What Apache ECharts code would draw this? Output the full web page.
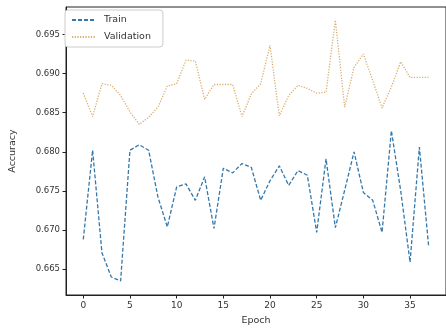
<!DOCTYPE html>
<html>
<head>
<meta charset="utf-8">
<script src="https://cdn.jsdelivr.net/npm/echarts@6/dist/echarts.min.js"></script>
<style>
html,body{margin:0;padding:0;background:#fff;}
#c{width:446px;height:333px;}
</style>
</head>
<body>
<div id="c"></div>
<script>
const epochs = [0,1,2,3,4,5,6,7,8,9,10,11,12,13,14,15,16,17,18,19,20,21,22,23,24,25,26,27,28,29,30,31,32,33,34,35,36,37];
const trainAcc = [0.6688,0.6802,0.6671,0.6640,0.6635,0.6802,0.6809,0.6802,0.6742,0.6704,0.6755,0.6759,0.6738,0.6768,0.6702,0.6779,0.6773,0.6785,0.6780,0.6738,0.6763,0.6782,0.6757,0.6776,0.6770,0.6697,0.6791,0.6703,0.6751,0.6800,0.6748,0.6738,0.6697,0.6827,0.6750,0.6659,0.6806,0.6678];
const valAcc = [0.6875,0.6845,0.6887,0.6885,0.6872,0.6851,0.6835,0.6844,0.6857,0.6884,0.6887,0.6917,0.6916,0.6867,0.6886,0.6886,0.6886,0.6845,0.6874,0.6887,0.6936,0.6846,0.6872,0.6885,0.6881,0.6875,0.6876,0.6968,0.6857,0.6908,0.6925,0.6891,0.6856,0.6883,0.6915,0.6895,0.6895,0.6895];
const xTicks = [0,5,10,15,20,25,30,35];
const yTicks = [0.665,0.670,0.675,0.680,0.685,0.690,0.695];
const seriesNames = ['Train','Validation'];

const chart = echarts.init(document.getElementById('c'));
const txt = '#333';
const font = 'DejaVu Sans';
chart.setOption({
  animation: false,
  backgroundColor: '#fff',
  grid: {left: 64, top: 7, right: -3, bottom: 38, show: true, borderColor: '#222', borderWidth: 1, containLabel: false},
  legend: {
    left: 65, top: 10, orient: 'vertical',
    padding: [5, 12, 5, 6], itemGap: 7, itemWidth: 24, itemHeight: 10,
    borderColor: '#ccc', borderWidth: 1, borderRadius: 3, backgroundColor: '#fff',
    itemStyle: {opacity: 0},
    textStyle: {fontFamily: font, fontSize: 9.5, color: txt, padding: [0, 0, 0, 3]},
    data: seriesNames
  },
  xAxis: {
    type: 'value', min: -1.85, max: 38.85,
    name: 'Epoch', nameLocation: 'middle', nameGap: 21,
    nameTextStyle: {fontFamily: font, fontSize: 9.5, color: txt},
    axisLine: {show: true, onZero: false, lineStyle: {color: '#222', width: 1}},
    axisTick: {show: true, length: 3.5, lineStyle: {color: '#222'}, customValues: xTicks},
    axisLabel: {fontFamily: font, fontSize: 9, color: txt, margin: 6, customValues: xTicks},
    splitLine: {show: false}
  },
  yAxis: {
    type: 'value', min: 0.6617, max: 0.6985,
    name: 'Accuracy', nameLocation: 'middle', nameGap: 48,
    nameTextStyle: {fontFamily: font, fontSize: 9.5, color: txt},
    axisLine: {show: true, onZero: false, lineStyle: {color: '#222', width: 1}},
    axisTick: {show: true, length: 3.5, lineStyle: {color: '#222'}, customValues: yTicks},
    axisLabel: {fontFamily: font, fontSize: 8.5, color: txt, margin: 6, customValues: yTicks,
      formatter: v => v.toFixed(3)},
    splitLine: {show: false}
  },
  series: [
    {
      name: seriesNames[0], type: 'line', symbol: 'none', smooth: false,
      data: epochs.map((e, i) => [e, trainAcc[i]]),
      lineStyle: {color: '#3478ab', width: 1.3, type: [4, 2]},
      itemStyle: {color: '#3478ab'}
    },
    {
      name: seriesNames[1], type: 'line', symbol: 'none', smooth: false,
      data: epochs.map((e, i) => [e, valAcc[i]]),
      lineStyle: {color: '#d8ac6c', width: 1.3, type: [1.2, 1.5]},
      itemStyle: {color: '#d8ac6c'}
    }
  ]
});
</script>
</body>
</html>
